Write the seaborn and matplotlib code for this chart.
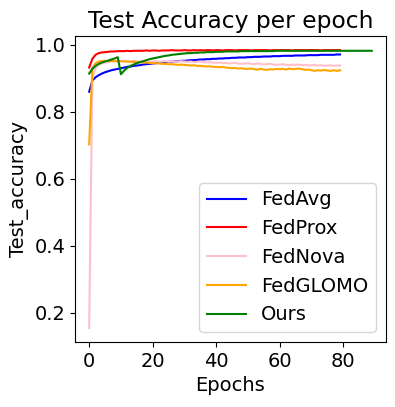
import matplotlib
matplotlib.use("Agg")
import matplotlib.pyplot as plt
import numpy as np
import seaborn as sns

# test accuracy per epoch
fedavg = [
    0.860, 0.893, 0.903, 0.909, 0.914, 0.918, 0.921, 0.924, 0.926, 0.928,
    0.930, 0.932, 0.934, 0.935, 0.937, 0.938, 0.939, 0.941, 0.942, 0.943,
    0.944, 0.945, 0.946, 0.947, 0.948, 0.949, 0.949, 0.950, 0.951, 0.952,
    0.952, 0.953, 0.954, 0.954, 0.955, 0.956, 0.956, 0.957, 0.957, 0.958,
    0.958, 0.959, 0.959, 0.960, 0.960, 0.961, 0.961, 0.962, 0.962, 0.962,
    0.963, 0.963, 0.964, 0.964, 0.964, 0.965, 0.965, 0.965, 0.966, 0.966,
    0.966, 0.967, 0.967, 0.967, 0.967, 0.968, 0.968, 0.968, 0.968, 0.969,
    0.969, 0.969, 0.969, 0.970, 0.970, 0.970, 0.970, 0.970, 0.971, 0.971,
]
fedprox = [
    0.932, 0.958, 0.970, 0.975, 0.977, 0.978, 0.979, 0.980, 0.980, 0.981,
    0.981, 0.981, 0.982, 0.981, 0.982, 0.982, 0.982, 0.982, 0.983, 0.982,
    0.983, 0.983, 0.982, 0.983, 0.983, 0.983, 0.984, 0.983, 0.983, 0.983,
    0.984, 0.983, 0.983, 0.984, 0.983, 0.984, 0.983, 0.984, 0.984, 0.983,
    0.984, 0.984, 0.983, 0.984, 0.984, 0.984, 0.983, 0.984, 0.984, 0.984,
    0.984, 0.983, 0.984, 0.984, 0.984, 0.984, 0.984, 0.983, 0.984, 0.984,
    0.984, 0.984, 0.984, 0.984, 0.983, 0.984, 0.984, 0.984, 0.984, 0.984,
    0.984, 0.984, 0.984, 0.983, 0.984, 0.984, 0.984, 0.984, 0.984, 0.984,
]
fednova = [
    0.155, 0.900, 0.930, 0.940, 0.944, 0.947, 0.948, 0.950, 0.951, 0.950,
    0.951, 0.952, 0.951, 0.950, 0.952, 0.951, 0.950, 0.951, 0.950, 0.949,
    0.950, 0.951, 0.949, 0.950, 0.951, 0.949, 0.950, 0.949, 0.950, 0.951,
    0.950, 0.949, 0.950, 0.948, 0.949, 0.950, 0.948, 0.947, 0.948, 0.947,
    0.946, 0.947, 0.945, 0.946, 0.944, 0.945, 0.946, 0.944, 0.943, 0.944,
    0.945, 0.943, 0.942, 0.944, 0.943, 0.941, 0.942, 0.943, 0.941, 0.940,
    0.941, 0.942, 0.940, 0.939, 0.941, 0.940, 0.941, 0.939, 0.940, 0.938,
    0.939, 0.940, 0.938, 0.939, 0.937, 0.938, 0.939, 0.937, 0.938, 0.938,
]
fedglomo = [
    0.703, 0.930, 0.945, 0.950, 0.951, 0.952, 0.951, 0.952, 0.951, 0.952,
    0.951, 0.950, 0.950, 0.949, 0.949, 0.948, 0.948, 0.947, 0.947, 0.946,
    0.945, 0.945, 0.944, 0.943, 0.943, 0.942, 0.942, 0.941, 0.940, 0.941,
    0.940, 0.939, 0.938, 0.939, 0.937, 0.937, 0.936, 0.935, 0.936, 0.934,
    0.934, 0.933, 0.934, 0.932, 0.931, 0.930, 0.931, 0.929, 0.930, 0.928,
    0.928, 0.929, 0.927, 0.926, 0.928, 0.926, 0.925, 0.927, 0.926, 0.928,
    0.927, 0.928, 0.926, 0.929, 0.927, 0.928, 0.929, 0.927, 0.925, 0.926,
    0.924, 0.922, 0.924, 0.923, 0.925, 0.923, 0.922, 0.924, 0.922, 0.924,
]
ours = [
    0.914, 0.928, 0.937, 0.943, 0.947, 0.950, 0.953, 0.956, 0.959, 0.963,
    0.912, 0.923, 0.931, 0.937, 0.941, 0.945, 0.948, 0.951, 0.954, 0.957,
    0.959, 0.961, 0.963, 0.965, 0.967, 0.968, 0.970, 0.971, 0.972, 0.973,
    0.974, 0.975, 0.975, 0.976, 0.976, 0.977, 0.977, 0.978, 0.978, 0.978,
    0.979, 0.979, 0.979, 0.980, 0.980, 0.980, 0.980, 0.980, 0.981, 0.981,
    0.981, 0.981, 0.981, 0.981, 0.981, 0.981, 0.981, 0.981, 0.981, 0.982,
    0.982, 0.982, 0.982, 0.982, 0.982, 0.982, 0.982, 0.982, 0.982, 0.982,
    0.982, 0.982, 0.982, 0.982, 0.982, 0.982, 0.982, 0.982, 0.982, 0.982,
    0.982, 0.982, 0.982, 0.982, 0.982, 0.982, 0.982, 0.982, 0.982, 0.982,
]

series = [
    ("FedAvg", fedavg, "blue"),
    ("FedProx", fedprox, "red"),
    ("FedNova", fednova, "pink"),
    ("FedGLOMO", fedglomo, "orange"),
    ("Ours", ours, "green"),
]

plt.rcParams["font.size"] = 14

fig, ax = plt.subplots(figsize=(3.95, 4.07), dpi=100)
fig.subplots_adjust(left=0.19, right=0.977, bottom=0.16, top=0.911)

for name, vals, color in series:
    sns.lineplot(x=np.arange(len(vals)), y=vals, color=color, label=name,
                 linewidth=1.5, ax=ax)

ax.set_title("Test Accuracy per epoch")
ax.set_xlabel("Epochs")
ax.set_ylabel("Test_accuracy")
ax.set_xticks([0, 20, 40, 60, 80])
ax.set_yticks([0.2, 0.4, 0.6, 0.8, 1.0])
ax.legend(loc="lower right", fontsize=14)

fig.savefig("out.png", dpi=100)
